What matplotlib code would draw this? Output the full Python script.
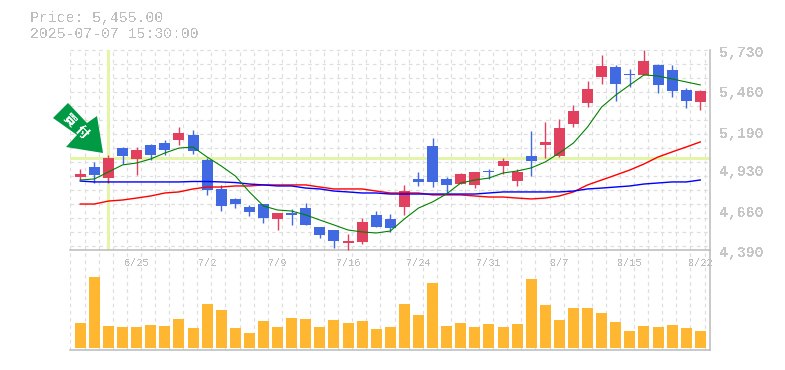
import numpy as np
import matplotlib.pyplot as plt
from matplotlib.patches import Polygon

plt.rcParams['font.family'] = ['Liberation Mono', 'DejaVu Sans Mono']
plt.rcParams['text.antialiased'] = False

W, H = 785, 370
PX = 0.72  # one pixel in points at dpi 100

opens = [4899, 4966, 4892, 5093, 5020, 5114, 5127, 5147, 5180, 5013, 4819, 4752, 4698, 4718, 4618,
         4658, 4691, 4564, 4544, 4457, 4464, 4644, 4618, 4698, 4886, 5107, 4886, 4852, 4846, 4939,
         4973, 4872, 5040, 5114, 5040, 5254, 5395, 5569, 5636, 5583, 5583, 5650, 5616, 5482, 5402]
closes = [4919, 4912, 5026, 5040, 5080, 5047, 5080, 5194, 5073, 4812, 4705, 4718, 4665, 4624, 4658,
          4644, 4578, 4511, 4470, 4470, 4598, 4564, 4557, 4805, 4866, 4866, 4846, 4919, 4933, 4933,
          5006, 4933, 5006, 5134, 5227, 5341, 5489, 5643, 5522, 5580, 5676, 5516, 5475, 5408, 5475]
highs = [4953, 5000, 5047, 5100, 5100, 5120, 5147, 5234, 5214, 5026, 4846, 4758, 4711, 4718, 4658,
         4685, 4725, 4564, 4544, 4517, 4624, 4671, 4651, 4846, 4933, 5160, 4899, 4926, 4933, 4953,
         5026, 4953, 5207, 5268, 5288, 5381, 5542, 5717, 5650, 5623, 5750, 5656, 5650, 5496, 5482]
lows = [4879, 4859, 4859, 4986, 4912, 5013, 5047, 5114, 5053, 4779, 4671, 4691, 4638, 4591, 4544,
        4578, 4578, 4491, 4424, 4410, 4450, 4564, 4531, 4644, 4839, 4832, 4792, 4852, 4825, 4886,
        4919, 4839, 4906, 5026, 5033, 5234, 5368, 5522, 5408, 5502, 5583, 5462, 5435, 5361, 5348]

ma_green = [4879, 4886, 4933, 4980, 4993, 5020, 5060, 5093, 5100, 5033, 4973, 4906, 4799, 4705, 4678,
            4671, 4645, 4611, 4578, 4544, 4531, 4524, 4537, 4618, 4691, 4732, 4786, 4859, 4879, 4892,
            4926, 4939, 4960, 5000, 5060, 5127, 5234, 5368, 5448, 5516, 5583, 5576, 5556, 5536, 5516]
ma_blue = [4872, 4866, 4866, 4866, 4866, 4866, 4866, 4866, 4869, 4869, 4866, 4862, 4852, 4846, 4839,
           4839, 4825, 4819, 4805, 4799, 4792, 4792, 4785, 4785, 4785, 4785, 4785, 4785, 4785, 4792,
           4799, 4799, 4799, 4799, 4799, 4805, 4819, 4825, 4832, 4839, 4852, 4859, 4866, 4866, 4879]
ma_red = [4718, 4718, 4738, 4745, 4758, 4772, 4792, 4799, 4819, 4832, 4832, 4839, 4839, 4846, 4846,
          4846, 4846, 4832, 4819, 4819, 4819, 4805, 4792, 4792, 4792, 4779, 4779, 4779, 4772, 4765,
          4765, 4758, 4752, 4758, 4772, 4799, 4846, 4879, 4912, 4946, 4986, 5033, 5067, 5100, 5134]

volume = [25, 71, 22, 21, 21, 23, 22, 29, 20, 44, 38, 20, 15, 27, 21,
          30, 29, 21, 28, 25, 27, 19, 21, 44, 33, 65, 22, 25, 21, 24,
          21, 24, 69, 43, 28, 40, 40, 35, 26, 17, 22, 21, 23, 20, 17]

price_ticks = [5730, 5460, 5190, 4930, 4660, 4390]
price_labels = ['5,730', '5,460', '5,190', '4,930', '4,660', '4,390']
date_pos = [4, 9, 14, 19, 24, 29, 34, 39, 44]
date_labels = ['6/25', '7/2', '7/9', '7/16', '7/24', '7/31', '8/7', '8/15', '8/22']
cross_index = 2

RED = '#e1405f'
BLUE = '#4169e1'
GREY = '#bdbdbd'
GRID = '#dedede'
DASH = (0, (3, 3))


def box(x0, y0, x1, y1):
    return [x0 / W, 1 - y1 / H, (x1 - x0) / W, (y1 - y0) / H]


fig = plt.figure(figsize=(W / 100, H / 100), dpi=100)
ax = fig.add_axes(box(70, 50, 710, 250))
vol = fig.add_axes(box(70, 250, 710, 350))

xlim = (-0.73, 44.69)
ax.set(xlim=xlim, ylim=(4410, 5750))
vol.set(xlim=xlim, ylim=(-2, 98))

grid_x = np.arange(-0.7, 45, 1)
grid_y = 5750 - 93.8 * np.arange(0, 15)
for a in (ax, vol):
    a.patch.set_alpha(0)
    a.set_xticks([])
    a.set_yticks([])
    a.vlines(grid_x, *a.get_ylim(), color=GRID, lw=PX * 1.2, ls=DASH, zorder=0)
    for s in ('left', 'top'):
        a.spines[s].set_visible(False)
    for s in ('right', 'bottom'):
        a.spines[s].set_color(GREY)
        a.spines[s].set_linewidth(PX * 1.6)
ax.hlines(grid_y, *xlim, color=GRID, lw=PX * 1.2, ls=DASH, zorder=0, clip_on=False)

for t, s in zip(price_ticks, price_labels):
    ax.annotate(s, (1, t), xycoords=ax.get_yaxis_transform(), xytext=(9, 0), textcoords='offset pixels',
                ha='left', va='center', fontsize=10.7, fontweight='bold', color='#c6c6c6', annotation_clip=False)

# crosshair under the candles
ax.axvline(cross_index, color='#e4f5a8', lw=PX * 3, zorder=1, ymin=0.01)
ax.axhline(closes[cross_index], color='#e4f5a8', lw=PX * 3, zorder=1)

x = np.arange(len(opens))
for i in x:
    c = RED if closes[i] >= opens[i] else BLUE
    ax.vlines(i, lows[i], highs[i], color=c, lw=PX * 1.4, zorder=3, clip_on=False)
    bottom = min(opens[i], closes[i])
    height = max(abs(closes[i] - opens[i]), 6.7)
    ax.bar(i, height, bottom=bottom, width=0.78, color=c, zorder=3, lw=0)

ax.plot(x, ma_red, color='#ff0000', lw=PX * 1.4, zorder=4)
ax.plot(x, ma_blue, color='#0000ff', lw=PX * 1.4, zorder=4)
ax.plot(x, ma_green, color='#008000', lw=PX * 1.1, zorder=5)

vol.bar(x, volume, width=0.78, color='#ffb732', lw=0, zorder=3)

for p, s in zip(date_pos, date_labels):
    vol.annotate(s, (p, 1), xycoords=vol.get_xaxis_transform(), xytext=(0, -13),
                 textcoords='offset pixels', ha='center', va='center', fontsize=7.4, color=GREY, zorder=2)

fig.text(30 / W, 1 - 18 / H, 'Price: 5,455.00', fontsize=10.7, color=GREY, va='center')
fig.text(30 / W, 1 - 33.5 / H, '2025-07-07 15:30:00', fontsize=10.7, color=GREY, va='center')

# buy arrow, pixels from the top left corner
arrow = np.array([(68, 103), (53, 118), (77, 135), (66, 147), (103, 153), (97, 116), (87, 123)], float)
arrow = arrow / [W, H]
arrow[:, 1] = 1 - arrow[:, 1]
fig.add_artist(Polygon(arrow, closed=True, transform=fig.transFigure, color='#009944', lw=0, zorder=6))
for ch, px, py in [('買', 69, 120), ('付', 81, 132)]:
    fig.text(px / W, 1 - py / H, ch, rotation=-45, rotation_mode='anchor', ha='center', va='center',
             color='white', fontsize=9, fontweight='bold', family=['Noto Sans CJK JP'], zorder=7)

fig.savefig('out.png', dpi=100)
